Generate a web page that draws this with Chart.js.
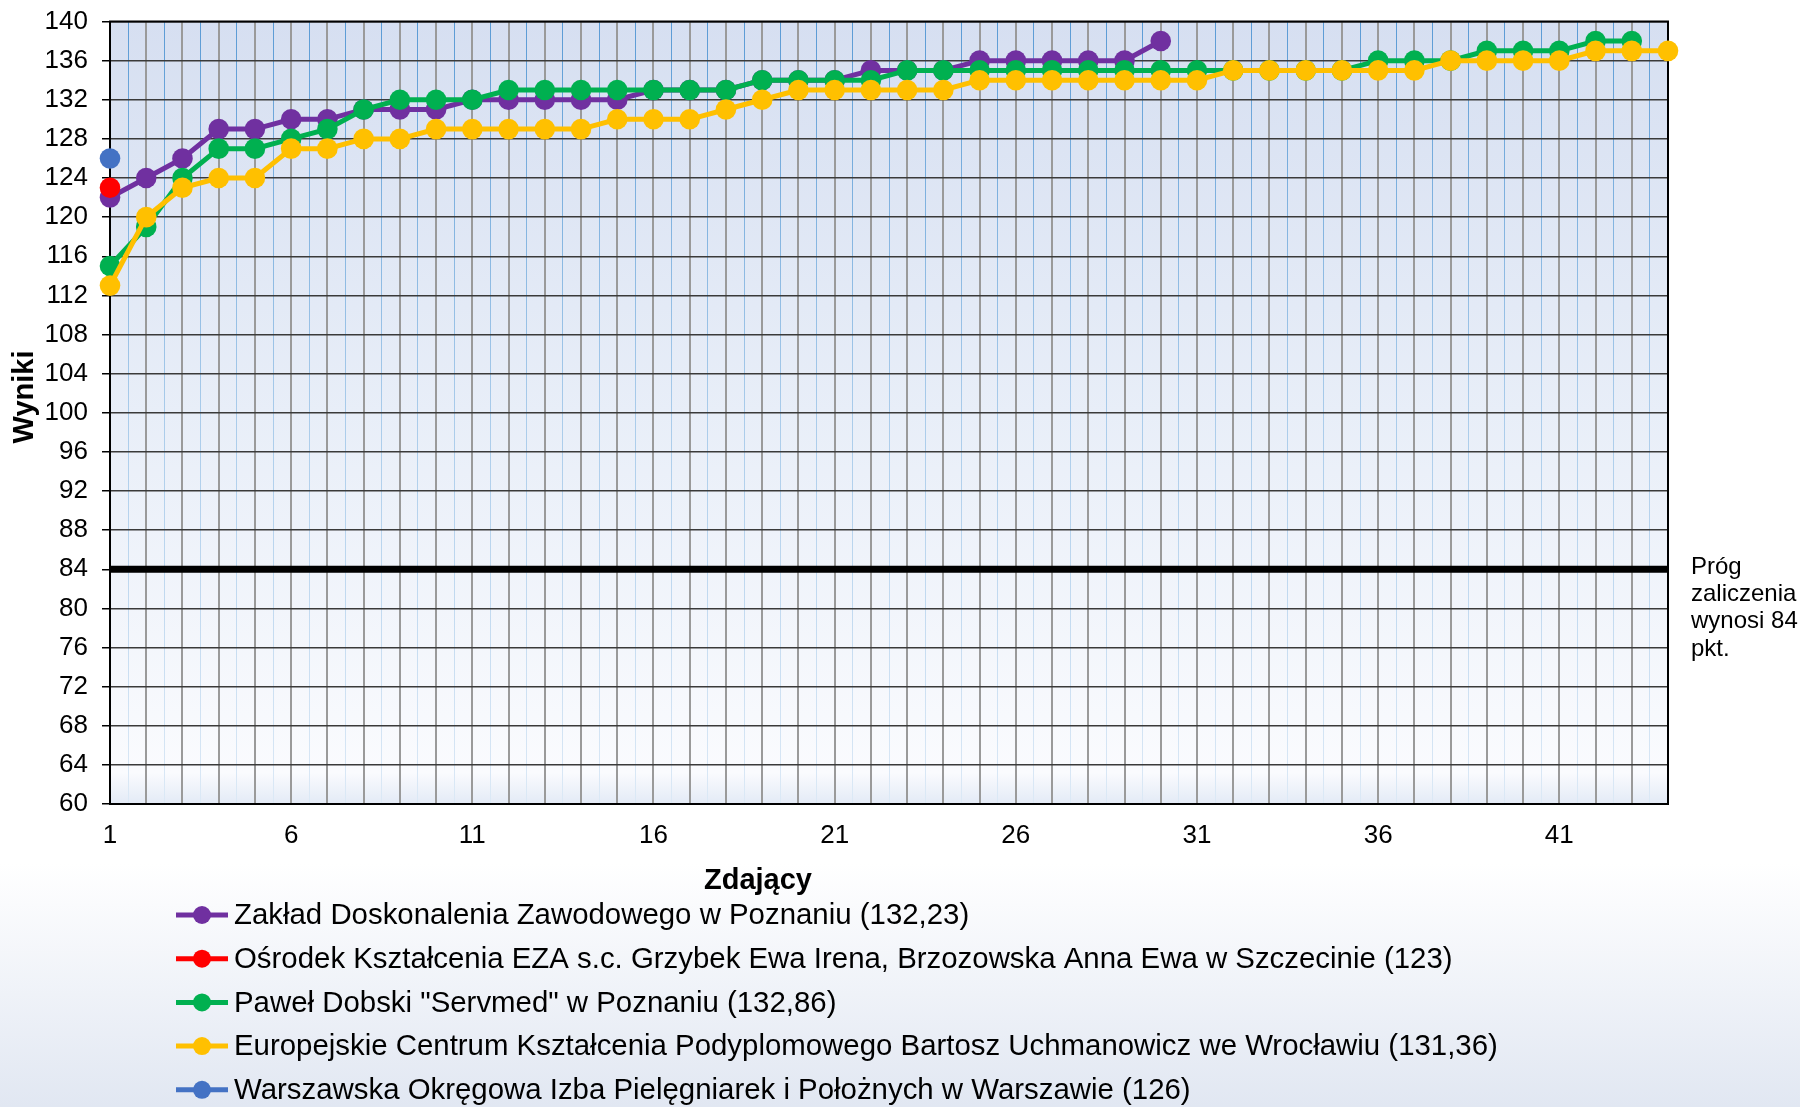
<!DOCTYPE html>
<html><head><meta charset="utf-8">
<script src="https://cdn.jsdelivr.net/npm/chart.js@4"></script>
<style>html,body{margin:0;padding:0;background:#fff;} canvas{display:block}</style>
</head><body>
<canvas id="c" width="1800" height="1107"></canvas>
<script>
const FONT = '"Liberation Sans", Arial, Helvetica, sans-serif';

// ---- data ----
const seriesNames = [
  'Zakład Doskonalenia Zawodowego w Poznaniu (132,23)',
  'Ośrodek Kształcenia EZA s.c. Grzybek Ewa Irena, Brzozowska Anna Ewa w Szczecinie (123)',
  'Paweł Dobski "Servmed" w Poznaniu (132,86)',
  'Europejskie Centrum Kształcenia Podyplomowego Bartosz Uchmanowicz we Wrocławiu (131,36)',
  'Warszawska Okręgowa Izba Pielęgniarek i Położnych w Warszawie (126)'
];
const zaklad = [122,124,126,129,129,130,130,131,131,131,132,132,132,132,132,133,133,133,134,134,134,135,135,135,136,136,136,136,136,138];
const osrodek = [123];
const dobski = [115,119,124,127,127,128,129,131,132,132,132,133,133,133,133,133,133,133,134,134,134,134,135,135,135,135,135,135,135,135,135,135,135,135,135,136,136,136,137,137,137,138,138];
const europejskie = [113,120,123,124,124,127,127,128,128,129,129,129,129,129,130,130,130,131,132,133,133,133,133,133,134,134,134,134,134,134,134,135,135,135,135,135,135,136,136,136,136,137,137,137];
const warszawska = [126];
const seriesColors = ['#7030A0', '#FF0000', '#00B050', '#FFC000', '#4472C4'];
const seriesOrder = [4, 3, 2, 1, 0]; // lower = drawn on top
const threshold = 84;
const participantRange = [1, 44];
const xTickLabels = [1, 6, 11, 16, 21, 26, 31, 36, 41];
const yRange = [60, 140];
const yStep = 4;
const xTitle = 'Zdający';
const yTitle = 'Wyniki';
const thresholdNote = ['Próg', 'zaliczenia', 'wynosi 84', 'pkt.'];

const seriesValues = [zaklad, osrodek, dobski, europejskie, warszawska];
const toPoints = arr => arr.map((v, i) => ({x: i + 1, y: v}));

const datasets = seriesValues.map((vals, i) => ({
  label: seriesNames[i],
  data: toPoints(vals),
  borderColor: seriesColors[i],
  backgroundColor: seriesColors[i],
  pointBackgroundColor: seriesColors[i],
  pointBorderWidth: 0,
  pointRadius: 10.3,
  borderWidth: 5,
  tension: 0,
  clip: false,
  order: seriesOrder[i]
}));
datasets.push({
  label: '__threshold',
  data: [{x: participantRange[0], y: threshold}, {x: participantRange[1], y: threshold}],
  borderColor: '#000',
  borderWidth: 7,
  pointRadius: 0,
  clip: false,
  order: 10
});

const decor = {
  id: 'decor',
  beforeDraw(chart) {
    const ctx = chart.ctx, a = chart.chartArea;
    ctx.save();
    const bg = ctx.createLinearGradient(0, 0, 0, chart.height);
    bg.addColorStop(0, '#FFFFFF');
    bg.addColorStop(0.78, '#FFFFFF');
    bg.addColorStop(1, '#E1E7F2');
    ctx.fillStyle = bg;
    ctx.fillRect(0, 0, chart.width, chart.height);
    const pg = ctx.createLinearGradient(0, a.top, 0, a.bottom);
    pg.addColorStop(0, '#D6DFF1');
    pg.addColorStop(0.5, '#E8EEF8');
    pg.addColorStop(0.96, '#FAFBFE');
    pg.addColorStop(1, '#E3EAF6');
    ctx.fillStyle = pg;
    ctx.fillRect(a.left, a.top, a.right - a.left, a.bottom - a.top);
    ctx.restore();
  },
  beforeDatasetsDraw(chart) {
    const ctx = chart.ctx, a = chart.chartArea;
    ctx.save();
    ctx.strokeStyle = '#000';
    ctx.lineWidth = 2;
    ctx.strokeRect(a.left, a.top, a.right - a.left, a.bottom - a.top);
    ctx.restore();
  },
  afterDraw(chart) {
    const ctx = chart.ctx;
    ctx.save();
    ctx.fillStyle = '#000';
    ctx.font = 'bold 29px ' + FONT;
    ctx.textAlign = 'center';
    ctx.textBaseline = 'middle';
    ctx.fillText(xTitle, 758, 881);
    ctx.save();
    ctx.translate(25, 397);
    ctx.rotate(-Math.PI / 2);
    ctx.fillText(yTitle, 0, 0);
    ctx.restore();
    ctx.font = '24px ' + FONT;
    ctx.textAlign = 'left';
    thresholdNote.forEach((t, i) => ctx.fillText(t, 1691, 567 + i * 27.3));
    ctx.font = '29.4px ' + FONT;
    seriesNames.forEach((name, i) => {
      const y = 915 + i * 43.7;
      ctx.strokeStyle = seriesColors[i];
      ctx.lineWidth = 5;
      ctx.beginPath();
      ctx.moveTo(176, y); ctx.lineTo(228, y);
      ctx.stroke();
      ctx.fillStyle = seriesColors[i];
      ctx.beginPath();
      ctx.arc(202, y, 9, 0, Math.PI * 2);
      ctx.fill();
      ctx.fillStyle = '#000';
      ctx.fillText(name, 234, y + 1);
    });
    ctx.restore();
  }
};

let minorGrad = null;
function minorColor(ctx) {
  const chart = ctx.chart, a = chart.chartArea;
  if (!a) return '#9DC3E6';
  if (!minorGrad) {
    minorGrad = chart.ctx.createLinearGradient(0, a.top, 0, a.bottom);
    minorGrad.addColorStop(0, '#5B9BD5');
    minorGrad.addColorStop(0.5, '#A9CBEA');
    minorGrad.addColorStop(1, '#DCE9F6');
  }
  return minorGrad;
}

new Chart(document.getElementById('c'), {
  type: 'line',
  data: {datasets},
  plugins: [decor],
  options: {
    responsive: false,
    animation: false,
    devicePixelRatio: 1,
    layout: {padding: {left: 0, right: 132, top: 21.5, bottom: 250}},
    plugins: {legend: {display: false}, tooltip: {enabled: false}},
    scales: {
      x: {
        type: 'linear',
        min: participantRange[0],
        max: participantRange[1],
        afterFit: s => { s.height = 1107 - 804 - 250; s.paddingLeft = 0; s.paddingRight = 0; },
        ticks: {
          stepSize: 0.5,
          maxTicksLimit: 500,
          autoSkip: false,
          maxRotation: 0,
          padding: 16,
          color: '#000',
          font: {family: FONT, size: 26},
          callback: v => xTickLabels.includes(v) ? String(v) : ''
        },
        grid: {
          drawTicks: false,
          color: ctx => (ctx.tick && Number.isInteger(ctx.tick.value)) ? '#9A9A9A' : minorColor(ctx),
          lineWidth: ctx => (ctx.tick && Number.isInteger(ctx.tick.value)) ? 2 : 1
        },
        border: {display: false}
      },
      y: {
        min: yRange[0],
        max: yRange[1],
        afterFit: s => { s.width = 110; s.paddingTop = 0; s.paddingBottom = 0; },
        ticks: {
          stepSize: yStep,
          padding: 14,
          color: '#000',
          font: {family: FONT, size: 26}
        },
        grid: {
          color: '#3A3A3A',
          lineWidth: 1.5,
          tickColor: '#000',
          tickLength: 8
        },
        border: {display: false}
      }
    }
  }
});
</script>
</body></html>
